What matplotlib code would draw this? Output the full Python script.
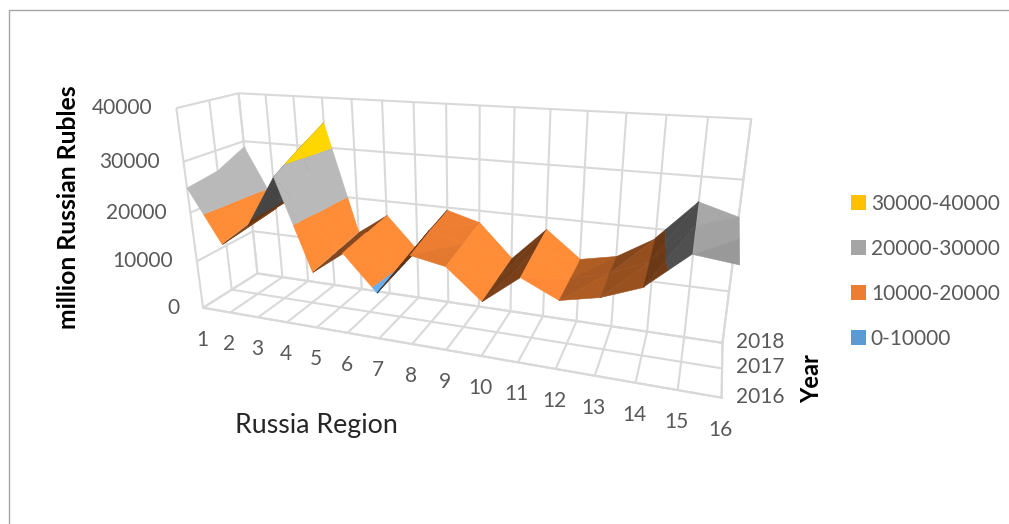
#!/usr/bin/env python3
import numpy as np
import matplotlib
matplotlib.use("Agg")
import matplotlib.pyplot as plt
from matplotlib.lines import Line2D
from matplotlib.patches import Patch
from mpl_toolkits.mplot3d import proj3d
from mpl_toolkits.mplot3d.art3d import Poly3DCollection

regions = list(range(1, 17))
years = [2016, 2017, 2018]
v2016 = [24900, 14400, 18900, 28700, 11300, 15800, 9000, 17100, 15900, 10400, 15700, 12600, 14100, 16800, 23000, 22200]
v2017 = [25900, 15800, 19500, 32000, 12000, 16500, 9800, 18500, 16800, 10800, 16800, 12600, 14500, 17500, 24500, 23000]
v2018 = [28800, 17000, 20000, 35000, 12800, 17100, 10400, 19500, 17700, 11200, 17800, 12700, 14100, 18300, 25600, 23600]
z_ticks = [0, 10000, 20000, 30000, 40000]
band_edges = [0, 10000, 20000, 30000, 40000]
band_labels = ['0-10000', '10000-20000', '20000-30000', '30000-40000']
band_colors = ['#5B9BD5', '#ED7D31', '#A5A5A5', '#FFC000']

W, H = 1009, 524
ASPECT = (2.4338, 0.4658, 1)
TEXT = '#595959'

plt.rcParams['font.family'] = ['Lato', 'DejaVu Sans']
plt.rcParams['grid.color'] = '#d9d9d9'
plt.rcParams['grid.linewidth'] = 1.5


def clip_poly(poly, level, keep_above):
    # clip a polygon against a horizontal plane
    out = []
    for i in range(len(poly)):
        a, b = poly[i], poly[(i + 1) % len(poly)]
        ina = a[2] >= level if keep_above else a[2] <= level
        inb = b[2] >= level if keep_above else b[2] <= level
        if ina:
            out.append(a)
        if ina != inb:
            t = (level - a[2]) / (b[2] - a[2])
            out.append(a + t * (b - a))
    return out


def shade(tri, color):
    # the light comes from the right hand side of the chart
    scale = np.array([ASPECT[0] / 15, ASPECT[1] / 2, ASPECT[2] / 40000])
    p = tri * scale
    n = np.cross(p[1] - p[0], p[2] - p[0])
    n = n / np.linalg.norm(n)
    if n[2] < 0:
        n = -n
    factor = np.clip(0.86 + 0.55 * n[0], 0.42, 1.12)
    rgb = np.array(matplotlib.colors.to_rgb(color)) * factor
    return tuple(np.clip(rgb, 0, 1))


fig = plt.figure(figsize=(W / 100, H / 100), dpi=100)
s = 577.1945
ax = fig.add_axes([(438.325 - s / 2) / W, 1 - (231.9002 + s / 2) / H, s / W, s / H],
                  projection='3d', computed_zorder=False)
ax.patch.set_alpha(0)
ax.view_init(elev=18.9285, azim=-69.3151, roll=0.6725)
ax.set_proj_type('persp', focal_length=0.2286)
ax.set_box_aspect(ASPECT)
ax.set_xlim(1, 16, view_margin=0)
ax.set_ylim(0, 2, view_margin=0)
ax.set_zlim(0, 40000, view_margin=0)
ax.set_xticks(regions)
ax.set_yticks(range(len(years)))
ax.set_zticks(z_ticks)
ax.set_xticklabels([])
ax.set_yticklabels([])
ax.set_zticklabels([])
for axis in (ax.xaxis, ax.yaxis, ax.zaxis):
    axis.set_pane_color((1, 1, 1, 0))
    axis.pane.set_edgecolor('#d9d9d9')
    axis.pane.set_linewidth(1.5)
    axis.line.set_color('#d9d9d9')
    axis.line.set_linewidth(1.5)
    axis._axinfo['tick']['inward_factor'] = 0
    axis._axinfo['tick']['outward_factor'] = 0

# surface, split in triangles and cut at the value bands
# drawn far to near: left to right, back to front
grid = np.array([v2016, v2017, v2018], dtype=float)
order = 0
for i in range(len(regions) - 1):
    for j in range(len(years) - 2, -1, -1):
        c = [np.array([regions[i], j, grid[j, i]]), np.array([regions[i + 1], j, grid[j, i + 1]]),
             np.array([regions[i + 1], j + 1, grid[j + 1, i + 1]]), np.array([regions[i], j + 1, grid[j + 1, i]])]
        for tri in ([c[0], c[2], c[3]], [c[0], c[1], c[2]]):
            polys = []
            colors = []
            for k, color in enumerate(band_colors):
                part = clip_poly(clip_poly(tri, band_edges[k], True), band_edges[k + 1], False)
                if len(part) >= 3:
                    polys.append(part)
                    colors.append(shade(np.array(tri), color))
            piece = Poly3DCollection(polys, facecolors=colors, edgecolors=colors, linewidths=0.4)
            piece.set_clip_on(False)
            piece.set_zorder(2 + order * 0.01)
            ax.add_collection3d(piece, autolim=False)
            order += 1

# tick labels sit at a pixel offset from the projected axis ends
ax.apply_aspect()
M = ax.get_proj()


def label_at(text, x, y, z, dx, dy, ha):
    px, py, _ = proj3d.proj_transform(x, y, z, M)
    ax.annotate(text, (px, py), xytext=(dx, dy), textcoords='offset pixels', ha=ha, va='center',
                fontsize=15, color=TEXT, annotation_clip=False)


for v in z_ticks:
    label_at(str(v), 1, 0, v, -24, 0, 'right')
for r in regions:
    label_at(str(r), r, 0, 0, -1, -32, 'center')
for j, y in enumerate(years):
    label_at(str(y), 16, j, 0, 14, 1, 'left')

fig.text(69 / W, 1 - 207 / H, 'million Russian Rubles', rotation=90, fontsize=17.8, fontweight='bold',
         color='black', ha='center', va='center')
fig.text(316 / W, 1 - 425.5 / H, 'Russia Region', fontsize=19.3, color='#262626', ha='center', va='center')
fig.text(812 / W, 1 - 379 / H, 'Year', rotation=90, fontsize=17, fontweight='bold',
         color='black', ha='center', va='center')

handles = [Patch(facecolor=c, edgecolor='none', label=l) for c, l in zip(band_colors, band_labels)]
fig.legend(handles=handles[::-1], loc='center left', bbox_to_anchor=(851 / W, 1 - 271.5 / H), frameon=False,
           fontsize=15, labelcolor=TEXT, handlelength=0.7, handleheight=0.7, handletextpad=0.25,
           labelspacing=1.2, borderpad=0, borderaxespad=0)

# chart frame, cut off by the image on the right and at the bottom
fig.add_artist(Line2D([9 / W, 9 / W, 1], [0, 1 - 9.5 / H, 1 - 9.5 / H], color='#a6a6a6', lw=1))

plt.savefig("out.png", dpi=100)
